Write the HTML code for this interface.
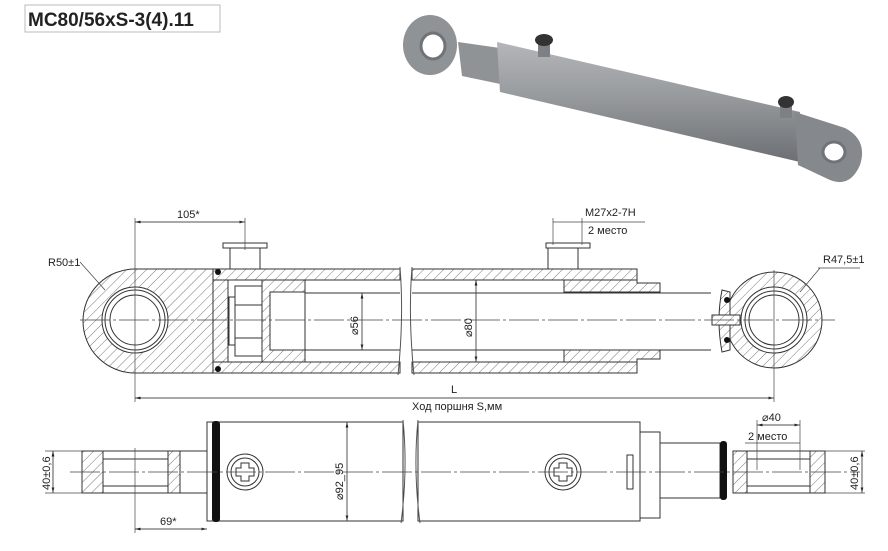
<!DOCTYPE html>
<html><head><meta charset="utf-8"><style>
html,body{margin:0;padding:0;background:#fff;}
svg{display:block}
text{font-family:"Liberation Sans",sans-serif;fill:#222}
</style></head><body>
<svg width="888" height="551" viewBox="0 0 888 551" xmlns="http://www.w3.org/2000/svg">
<defs>
<pattern id="h" width="7" height="7" patternUnits="userSpaceOnUse" patternTransform="rotate(45)">
<rect width="7" height="7" fill="#fff"/><line x1="0" y1="0" x2="0" y2="7" stroke="#555" stroke-width="0.8"/></pattern>
<linearGradient id="g" x1="0" y1="0" x2="0" y2="1"><stop offset="0" stop-color="#b4b6b9"/><stop offset="0.45" stop-color="#989b9e"/><stop offset="1" stop-color="#6c6f73"/></linearGradient>
<marker id="a" markerWidth="8" markerHeight="6" refX="8" refY="3" orient="auto"><path d="M0,1 L8,3 L0,5z" fill="#222"/></marker>
</defs>
<!-- title -->
<rect x="25" y="5" width="195" height="27" fill="#fff" stroke="#bbb"/>
<text x="28" y="26" font-size="19" font-weight="bold" fill="#111">MC80/56xS-3(4).11</text>

<!-- 3D -->
<g>
<polygon points="458,42 500,48 505,85 462,76" fill="#909396"/>
<polygon points="497,42 800,112 800,162 500,92" fill="url(#g)"/>
<path d="M795,112 L845,128 Q868,140 860,165 Q850,188 830,180 L798,165 Z" fill="#85888c"/>
<ellipse cx="430" cy="45" rx="27" ry="30" fill="#909396"/>
<ellipse cx="433" cy="46" rx="12" ry="13" fill="#fff" stroke="#707377" stroke-width="3"/>
<ellipse cx="834" cy="152" rx="11" ry="10" fill="#fff" stroke="#707377" stroke-width="3"/>
<rect x="538" y="42" width="12" height="15" fill="#7d8084"/>
<ellipse cx="544" cy="40" rx="9" ry="6" fill="#333"/>
<rect x="780" y="104" width="12" height="14" fill="#7d8084"/>
<ellipse cx="786" cy="102" rx="8" ry="6" fill="#333"/>
</g>

<g stroke="#333" stroke-width="1" fill="none">
<path d="M213,269 L135,269 A52,52 0 0 0 135,373 L213,373 Z" fill="url(#h)"/>
<circle cx="135" cy="320" r="33" fill="#fff"/>
<circle cx="135" cy="320" r="30"/>
<circle cx="135" cy="320" r="25"/>
<rect x="213" y="269" width="187" height="11" fill="url(#h)"/>
<rect x="213" y="362" width="187" height="11" fill="url(#h)"/>
<rect x="412" y="269" width="225" height="11" fill="url(#h)"/>
<rect x="412" y="362" width="225" height="11" fill="url(#h)"/>
<path d="M400,267 q4,50 -2,108 M412,267 q-4,50 2,108" stroke="#555"/>
<rect x="213" y="280" width="15" height="82" fill="url(#h)"/>
<rect x="262" y="280" width="43" height="82" fill="url(#h)"/>
<rect x="270" y="292" width="35" height="58" fill="#fff"/>
<rect x="235" y="286" width="27" height="70" fill="#fff"/>
<line x1="235" y1="305" x2="262" y2="305"/><line x1="235" y1="338" x2="262" y2="338"/>
<rect x="229" y="297" width="6" height="48" fill="#fff"/>
<line x1="305" y1="293" x2="400" y2="293"/><line x1="305" y1="350" x2="400" y2="350"/>
<line x1="412" y1="293" x2="711" y2="293"/><line x1="412" y1="350" x2="711" y2="350"/>
<path d="M564,280 L637,280 L637,283 L660,283 L660,292 L564,292 Z" fill="url(#h)"/>
<path d="M564,350 L660,350 L660,359 L637,359 L637,362 L564,362 Z" fill="url(#h)"/>
<rect x="230" y="247" width="30" height="22" fill="#fff"/><rect x="223" y="243" width="44" height="5" fill="#fff"/>
<rect x="548" y="247" width="30" height="22" fill="#fff"/><rect x="546" y="243" width="44" height="5" fill="#fff"/>
<circle cx="774" cy="320" r="48" fill="url(#h)"/>
<path d="M722,290 L730,292 L730,350 L722,352 Q716,320 722,290Z" fill="url(#h)"/>
<rect x="712" y="315" width="28" height="10" fill="url(#h)"/>
<circle cx="774" cy="320" r="33" fill="#fff"/>
<circle cx="774" cy="320" r="29"/>
<circle cx="774" cy="320" r="25"/>
</g>
<g fill="#111"><circle cx="218" cy="272" r="3"/><circle cx="218" cy="369" r="3"/><circle cx="727" cy="300" r="3"/><circle cx="727" cy="340" r="3"/></g>
<g stroke="#444" stroke-width="0.7">
<line x1="80" y1="320" x2="835" y2="320" stroke-dasharray="30,3,3,3"/>
<line x1="135" y1="218" x2="135" y2="402"/><line x1="245" y1="218" x2="245" y2="250"/>
<line x1="774" y1="270" x2="774" y2="402"/>
<line x1="135" y1="222" x2="245" y2="222" marker-end="url(#a)"/><line x1="245" y1="222" x2="135" y2="222" marker-end="url(#a)"/>
<line x1="135" y1="398" x2="774" y2="398" marker-end="url(#a)"/><line x1="774" y1="398" x2="135" y2="398" marker-end="url(#a)"/>
<line x1="362" y1="293" x2="362" y2="350" marker-end="url(#a)"/><line x1="362" y1="350" x2="362" y2="293" marker-end="url(#a)"/>
<line x1="476" y1="280" x2="476" y2="362" marker-end="url(#a)"/><line x1="476" y1="362" x2="476" y2="280" marker-end="url(#a)"/>
<line x1="553" y1="222" x2="645" y2="222"/><line x1="553" y1="218" x2="553" y2="245"/><line x1="582" y1="218" x2="582" y2="245"/>
<line x1="80" y1="262" x2="105" y2="290"/><line x1="820" y1="268" x2="800" y2="292"/><line x1="818" y1="268" x2="860" y2="268"/>
</g>
<text x="177" y="218" font-size="11">105*</text>
<text x="48" y="266" font-size="11">R50±1</text>
<text x="585" y="216" font-size="11">M27x2-7H</text>
<text x="588" y="234" font-size="11">2 место</text>
<text x="823" y="263" font-size="11">R47,5±1</text>
<text x="451" y="393" font-size="11">L</text>
<text x="412" y="410" font-size="11">Ход поршня S,мм</text>
<text transform="translate(358,335) rotate(-90)" font-size="11">⌀56</text>
<text transform="translate(472,337) rotate(-90)" font-size="11">⌀80</text>

<g stroke="#333" stroke-width="1" fill="none">
<rect x="82" y="451" width="125" height="42" fill="#fff"/>
<rect x="82" y="451" width="21" height="42" fill="url(#h)"/>
<rect x="168" y="451" width="12" height="42" fill="url(#h)"/>
<rect x="103" y="459" width="65" height="27"/>
<rect x="207" y="422" width="196" height="99" fill="#fff"/>
<rect x="418" y="422" width="222" height="99" fill="#fff"/>
<path d="M403,420 q5,50 -2,103 M418,420 q-5,50 2,103" stroke="#555"/>
<rect x="640" y="432" width="20" height="86" fill="#fff"/>
<rect x="660" y="443" width="60" height="55" fill="#fff"/>
<rect x="733" y="451" width="92" height="42" fill="#fff"/>
<rect x="733" y="451" width="14" height="42" fill="url(#h)"/>
<rect x="810" y="451" width="15" height="42" fill="url(#h)"/>
<rect x="747" y="459" width="63" height="27"/>
<circle cx="245" cy="472" r="18" fill="#fff"/><circle cx="245" cy="472" r="14"/>
<path d="M241,463h8v5h5v8h-5v5h-8v-5h-5v-8h5z"/>
<circle cx="563" cy="472" r="18" fill="#fff"/><circle cx="563" cy="472" r="14"/>
<path d="M559,463h8v5h5v8h-5v5h-8v-5h-5v-8h5z"/>
<rect x="627" y="455" width="6" height="34"/>
</g>
<rect x="212" y="421" width="8" height="101" rx="3" fill="#111"/>
<rect x="720" y="441" width="7" height="59" rx="3" fill="#111"/>
<g stroke="#444" stroke-width="0.7">
<line x1="70" y1="472" x2="860" y2="472" stroke-dasharray="30,3,3,3"/>
<line x1="45" y1="451" x2="82" y2="451"/><line x1="45" y1="493" x2="82" y2="493"/>
<line x1="53" y1="451" x2="53" y2="493" marker-end="url(#a)"/><line x1="53" y1="493" x2="53" y2="451" marker-end="url(#a)"/>
<line x1="825" y1="451" x2="865" y2="451"/><line x1="825" y1="493" x2="865" y2="493"/>
<line x1="862" y1="451" x2="862" y2="493" marker-end="url(#a)"/><line x1="862" y1="493" x2="862" y2="451" marker-end="url(#a)"/>
<line x1="135" y1="448" x2="135" y2="533"/>
<line x1="135" y1="529" x2="207" y2="529" marker-end="url(#a)"/><line x1="207" y1="529" x2="135" y2="529" marker-end="url(#a)"/>
<line x1="347" y1="422" x2="347" y2="521" marker-end="url(#a)"/><line x1="347" y1="521" x2="347" y2="422" marker-end="url(#a)"/>
<line x1="757" y1="425" x2="800" y2="425" marker-end="url(#a)"/><line x1="800" y1="425" x2="757" y2="425" marker-end="url(#a)"/>
<line x1="757" y1="420" x2="757" y2="470"/><line x1="800" y1="420" x2="800" y2="470"/>
<line x1="745" y1="443" x2="800" y2="443"/>
</g>
<text transform="translate(50,490) rotate(-90)" font-size="11">40±0,6</text>
<text transform="translate(858,490) rotate(-90)" font-size="11">40±0,6</text>
<text transform="translate(343,500) rotate(-90)" font-size="11">⌀92_95</text>
<text x="160" y="525" font-size="11">69*</text>
<text x="762" y="421" font-size="11">⌀40</text>
<text x="748" y="440" font-size="11">2 место</text>
</svg>
</body></html>
